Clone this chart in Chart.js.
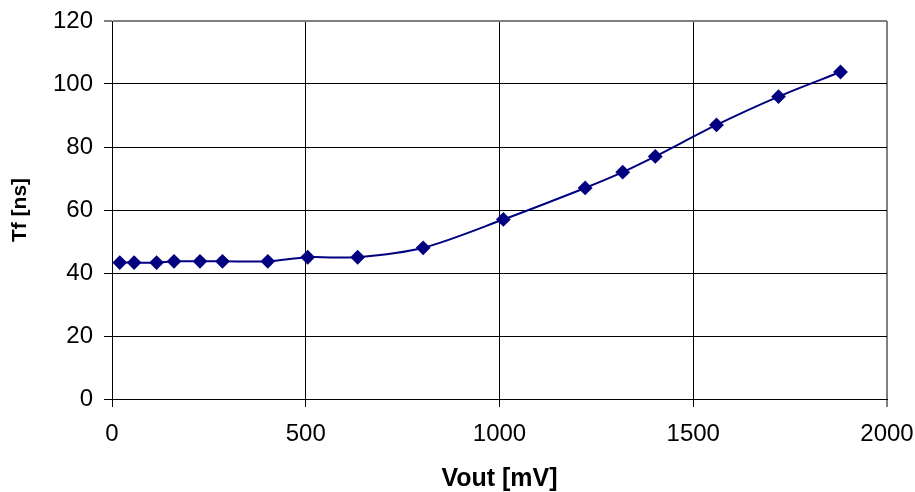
<!DOCTYPE html>
<html>
<head>
<meta charset="utf-8">
<script src="https://cdn.jsdelivr.net/npm/chart.js@4/dist/chart.umd.min.js"></script>
<style>
    html, body { margin: 0; padding: 0; background: #fff; }
    #wrap { width: 915px; height: 492px; }
</style>
</head>
<body>
<div id="wrap"><canvas id="tf_chart" width="915" height="492"></canvas></div>
<script>
// values
const vout = [20, 57, 115, 160, 227, 285, 402, 505, 634, 803, 1010, 1221, 1318, 1402, 1560, 1720, 1880];
const tf = [43.3, 43.3, 43.3, 43.7, 43.7, 43.7, 43.7, 45, 45, 48, 57, 67, 72, 77, 87, 96, 103.8];

const xTitle = "Vout [mV]";
const yTitle = "Tf [ns]";

const points = vout.map((v, i) => ({ x: v, y: tf[i] }));

const fam = "Arial, 'Liberation Sans', sans-serif";
const tickFont = { family: fam, size: 24 };

// outer edges of the plot are drawn grey and a bit thicker
const edgeColor = (ctx, last) => (ctx.index === last ? "#808080" : "#000");
const edgeWidth = (ctx, last) => (ctx.index === last ? 2 : 1);

new Chart("tf_chart", {
    type: "scatter",
    data: {
        datasets: [{
            data: points,
            showLine: true,
            borderColor: "#000080",
            backgroundColor: "#000080",
            borderWidth: 2,
            pointStyle: "rectRot",
            pointRadius: 6,
            pointHoverRadius: 6,
            tension: 0.3
        }]
    },
    options: {
        responsive: false,
        animation: false,
        layout: { padding: { left: 0, right: 28, top: 21, bottom: 0 } },
        plugins: {
            legend: { display: false },
            tooltip: { enabled: false }
        },
        scales: {
            x: {
                min: 0, max: 2000,
                ticks: {
                    stepSize: 500, color: "#000", font: tickFont, padding: 13, maxRotation: 0,
                    callback: (v) => String(v)
                },
                grid: {
                    color: (ctx) => edgeColor(ctx, 4),
                    lineWidth: (ctx) => edgeWidth(ctx, 4),
                    tickLength: 8
                },
                border: { color: "#000" },
                title: {
                    display: true, text: xTitle, color: "#000",
                    font: { family: fam, size: 25, weight: "bold", lineHeight: 1 },
                    padding: { top: 0, bottom: 0 }
                },
                afterFit: (scale) => {
                    scale.height = 93;
                    scale.paddingLeft = 0;
                    scale.paddingRight = 0;
                }
            },
            y: {
                min: 0, max: 120,
                ticks: {
                    stepSize: 20, color: "#000", font: tickFont, padding: 11,
                    callback: (v) => String(v)
                },
                grid: {
                    color: (ctx) => edgeColor(ctx, 6),
                    lineWidth: (ctx) => edgeWidth(ctx, 6),
                    tickLength: 8
                },
                border: { color: "#000" },
                title: {
                    display: true, text: yTitle, color: "#000",
                    font: { family: fam, size: 21, weight: "bold" },
                    padding: { top: 8, bottom: 0 }
                },
                afterFit: (scale) => {
                    scale.width = 112;
                    scale.paddingTop = 0;
                    scale.paddingBottom = 0;
                }
            }
        }
    }
});
</script>
</body>
</html>
